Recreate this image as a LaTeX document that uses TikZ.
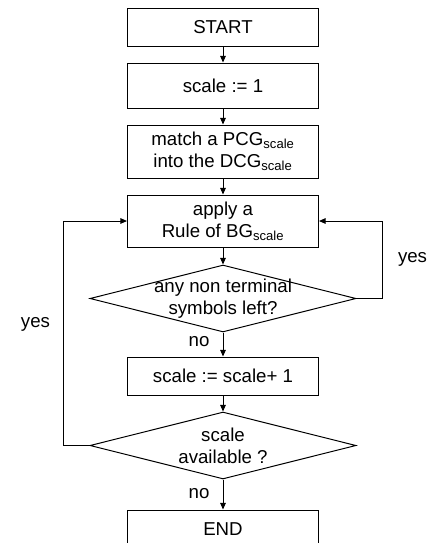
\documentclass[tikz,border=0pt]{standalone}
\usepackage{fontspec}
\setmainfont{Liberation Sans}
\usetikzlibrary{shapes.geometric, positioning, arrows.meta}

\begin{document}
\begin{tikzpicture}[x=0.75pt, y=-0.75pt,
  font=\fontsize{14}{16.5}\selectfont,
  box/.style={draw, line width=0.75pt, minimum width=143.25pt, align=center, inner sep=0pt},
  decision/.style={diamond, draw, line width=0.75pt, minimum width=199.5pt, minimum height=50.25pt, inner sep=0pt},
  flow/.style={draw, line width=0.75pt, -{Triangle[length=5pt,width=4.2pt]}},
  lbl/.style={inner sep=0pt}]

  \useasboundingbox (0,0) rectangle (435,543);

  % Define nodes
  \node[box, minimum height=28.5pt]                        (start) at (223,27) {START};
  \node[box, minimum height=33.75pt, below=12pt of start]  (init)  {scale := 1};
  \node[box, minimum height=39.75pt, below=12pt of init]   (match) {match a PCG\textsubscript{scale}\\into the DCG\textsubscript{scale}};
  \node[box, minimum height=39pt, below=12pt of match]     (apply) {apply a\\Rule of BG\textsubscript{scale}};
  \node[decision, below=12.75pt of apply, label={[lbl, align=center, name=anyleft-text]center:any non terminal\\symbols left?}] (anyleft) {};
  \node[box, minimum height=28.5pt, below=18pt of anyleft] (incr)  {scale := scale+ 1};
  \node[decision, below=12pt of incr, label={[lbl, align=center, name=avail-text]center:scale\\available ?}] (avail) {};
  \node[box, minimum height=28.5pt, below=22.5pt of avail] (end)   {END};

  % Connect the nodes
  \draw[flow] (start) -- (init);
  \draw[flow] (init) -- (match);
  \draw[flow] (match) -- (apply);
  \draw[flow] (apply) -- (anyleft);
  \draw[flow] (anyleft) -- node[lbl, left=9.75pt, pos=0.375] (no1) {no} (incr);
  \draw[flow] (incr) -- (avail);
  \draw[flow] (avail) -- node[lbl, left=9.75pt, pos=0.47] (no2) {no} (end);

  % Loops back
  \draw[flow] (anyleft.east) -- ++(19.5pt,0) |- node[lbl, right=11.25pt, pos=0.25] (yes1) {yes} (apply.east);
  \draw[flow] (avail.west) -- ++(-19.5pt,0) |- node[lbl, left=9.75pt, pos=0.27] (yes2) {yes} (apply.west);

\end{tikzpicture}
\end{document}
